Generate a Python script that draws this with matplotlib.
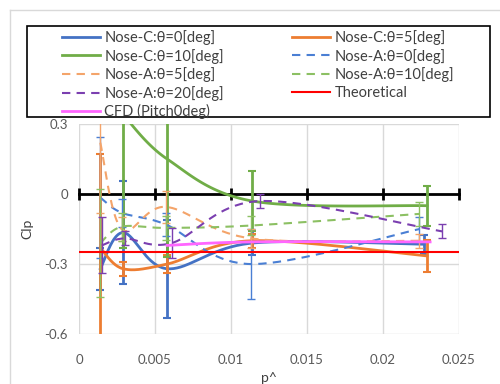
import numpy as np
import matplotlib
matplotlib.use("Agg")
import matplotlib.pyplot as plt
from matplotlib.lines import Line2D
from matplotlib.patches import Rectangle

plt.rcParams['font.family'] = ['Lato', 'DejaVu Sans']

# ---- data ----
xc0 = [0.0014, 0.0029, 0.0058, 0.0114, 0.0227]
yc0 = [-0.32, -0.165, -0.32, -0.21, -0.215]
ec0 = [0.09, 0.22, 0.21, 0.05, 0.04]

xc5 = [0.0014, 0.0029, 0.0058, 0.0114, 0.0229]
yc5 = [-0.23, -0.32, -0.30, -0.20, -0.265]
ec5 = [0.40, 0.03, 0.04, 0.03, 0.07]

xc10 = [0.0029, 0.0058, 0.0114, 0.0229]
yc10 = [0.34, 0.15, -0.03, -0.05]
ec10 = [0.57, 0.42, 0.13, 0.085]

xa0 = [0.0014, 0.0028, 0.0057, 0.0113, 0.0224]
ya0 = [-0.015, -0.08, -0.13, -0.30, -0.15]
ea0 = [0.26, 0.06, 0.05, 0.15, 0.05]

xa5 = [0.0014, 0.0028, 0.0057, 0.0113, 0.0224]
ya5 = [0.22, -0.15, -0.055, -0.19, -0.20]
ea5 = [0.30, 0.05, 0.07, 0.04, 0.03]

xa10 = [0.0014, 0.0028, 0.0057, 0.0113, 0.0224]
ya10 = [-0.21, -0.14, -0.145, -0.135, -0.085]
ea10 = [0.23, 0.06, 0.05, 0.04, 0.05]

xa20 = [0.0015, 0.0030, 0.0061, 0.0119, 0.0239]
ya20 = [-0.22, -0.19, -0.21, -0.03, -0.16]
ea20 = [0.12, 0.03, 0.065, 0.03, 0.03]

xcfd = [0.0058, 0.0115, 0.0231]
ycfd = [-0.22, -0.205, -0.205]

xth = [0.0, 0.025]
yth = [-0.25, -0.25]

xticks = [0, 0.005, 0.01, 0.015, 0.02, 0.025]
xticklabels = ['0', '0.005', '0.01', '0.015', '0.02', '0.025']
yticks = [-0.6, -0.3, 0, 0.3]
yticklabels = ['-0.6', '-0.3', '0', '0.3']

XMIN, XMAX, YMIN, YMAX = 0, 0.025, -0.6, 0.3


def smooth(x, y, n=40):
    """Excel-like smoothed line through the points (bezier, 1/6 handles)."""
    sx, sy = 380 / (XMAX - XMIN), 210 / (YMAX - YMIN)
    p = np.column_stack([np.asarray(x) * sx, np.asarray(y) * sy])
    out = []
    t = np.linspace(0, 1, n)[:, None]
    for i in range(len(p) - 1):
        p0, p3 = p[i], p[i + 1]
        prev = p[i - 1] if i > 0 else p[i]
        nxt = p[i + 2] if i + 2 < len(p) else p[i + 1]
        c1 = p0 + (p3 - prev) / 6
        c2 = p3 - (nxt - p0) / 6
        seg = (1 - t) ** 3 * p0 + 3 * (1 - t) ** 2 * t * c1 + 3 * (1 - t) * t ** 2 * c2 + t ** 3 * p3
        out.append(seg)
    out = np.vstack(out)
    return out[:, 0] / sx, out[:, 1] / sy


fig = plt.figure(figsize=(5.0, 3.84), dpi=100)
ax = fig.add_axes([0.158, 0.130, 0.760, 0.547])

blue = '#4472C4'
orange = '#ED7D31'
green = '#70AD47'
blue_l = '#4a7fd4'
orange_l = '#F4A46A'
green_l = '#8CC063'
purple = '#7B3FB0'
pink = '#FF66FF'
red = '#FF0000'

series = [
    (xc0, yc0, ec0, blue, '-', 2.0, 'Nose-C:θ=0[deg]'),
    (xc5, yc5, ec5, orange, '-', 2.0, 'Nose-C:θ=5[deg]'),
    (xc10, yc10, ec10, green, '-', 2.0, 'Nose-C:θ=10[deg]'),
    (xa0, ya0, ea0, blue_l, (0, (4, 3)), 1.5, 'Nose-A:θ=0[deg]'),
    (xa5, ya5, ea5, orange_l, (0, (4, 3)), 1.5, 'Nose-A:θ=5[deg]'),
    (xa10, ya10, ea10, green_l, (0, (4, 3)), 1.5, 'Nose-A:θ=10[deg]'),
    (xa20, ya20, ea20, purple, (0, (4, 3)), 1.5, 'Nose-A:θ=20[deg]'),
]

# axis line through zero with tick marks
ax.plot([XMIN, XMAX], [0, 0], color='black', lw=2, zorder=2, clip_on=False)
ax.plot(xticks, [0] * len(xticks), ls='none', marker='|', ms=9, mew=2, color='black', zorder=2, clip_on=False)

handles = {}
for x, y, e, c, ls, lw, lab in series:
    sx, sy = smooth(x, y)
    ln, = ax.plot(sx, sy, color=c, ls=ls, lw=lw, zorder=3)
    solid = ls == '-'
    ax.errorbar(x, y, yerr=e, fmt='none', ecolor=c, elinewidth=2.0 if solid else 1.0,
                capsize=3, capthick=1.5 if solid else 1.0,
                ls='-' if solid else ':', zorder=3)
    handles[lab] = ln

sx, sy = smooth(xcfd, ycfd)
handles['CFD (Pitch0deg)'], = ax.plot(sx, sy, color=pink, lw=2, zorder=4)
handles['Theoretical'], = ax.plot(xth, yth, color=red, lw=1.5, zorder=4)

ax.set_xlim(XMIN, XMAX)
ax.set_ylim(YMIN, YMAX)
ax.set_xticks(xticks)
ax.set_xticklabels(xticklabels)
ax.set_yticks(yticks)
ax.set_yticklabels(yticklabels)
ax.grid(True, color='#D9D9D9', lw=1)
ax.set_axisbelow(True)
for s in ax.spines.values():
    s.set_visible(False)
ax.tick_params(length=0, labelsize=9.5, colors='#595959', pad=14)
ax.tick_params(axis='y', pad=8)
ax.set_xlabel('p^', fontsize=10, color='#404040', labelpad=5)
ax.set_ylabel('Clp', fontsize=10, color='#404040', labelpad=8)

# legend frame drawn separately so the entries can sit where they do in the reference
fig.add_artist(Rectangle((27 / 500, 1 - 117 / 384), 463 / 500, 91 / 384, transform=fig.transFigure,
                         facecolor='white', edgecolor='black', lw=1.2, zorder=5))
order = ['Nose-C:θ=0[deg]', 'Nose-C:θ=10[deg]', 'Nose-A:θ=5[deg]', 'Nose-A:θ=20[deg]', 'CFD (Pitch0deg)',
         'Nose-C:θ=5[deg]', 'Nose-A:θ=0[deg]', 'Nose-A:θ=10[deg]', 'Theoretical']
leg = fig.legend([handles[k] for k in order], order, ncol=2, loc='upper left',
                 bbox_to_anchor=(62 / 500, 1 - 30 / 384),
                 fontsize=10.5, frameon=False, borderaxespad=0, borderpad=0,
                 handlelength=2.6, handletextpad=0.3, labelspacing=0.25, columnspacing=4.7)
leg.set_zorder(6)
for t in leg.get_texts():
    t.set_color('#404040')

# light chart-area border
fig.add_artist(Line2D([0.02, 1.0], [0.974, 0.974], color='#D9D9D9', lw=1, transform=fig.transFigure))
fig.add_artist(Line2D([0.02, 0.02], [0.0, 0.974], color='#D9D9D9', lw=1, transform=fig.transFigure))

fig.savefig('out.png', dpi=100)
